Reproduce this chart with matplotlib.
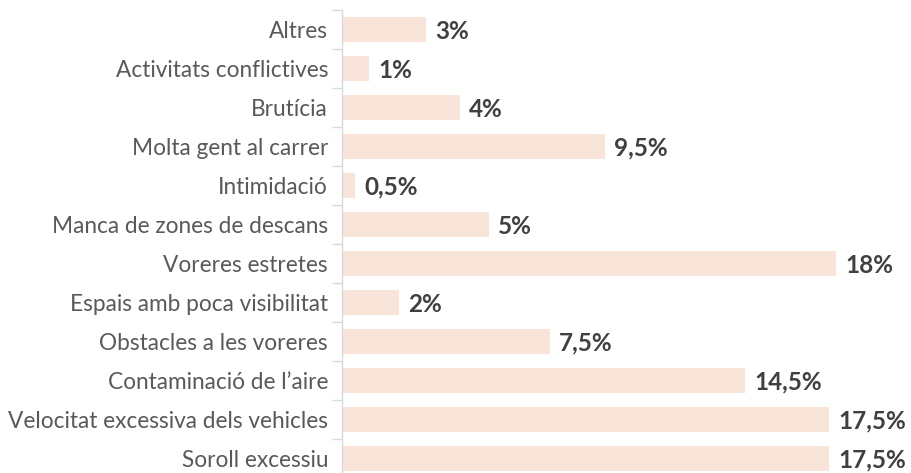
import matplotlib
matplotlib.use("Agg")
import matplotlib.pyplot as plt

categories = ["Altres", "Activitats conflictives", "Brutícia", "Molta gent al carrer",
              "Intimidació", "Manca de zones de descans", "Voreres estretes",
              "Espais amb poca visibilitat", "Obstacles a les voreres",
              "Contaminació de l\u2019aire", "Velocitat excessiva dels vehicles",
              "Soroll excessiu"]
values = [3.05, 1.0, 4.3, 9.6, 0.47, 5.35, 18.0, 2.08, 7.58, 14.7, 17.75, 17.75]
value_labels = ["3%", "1%", "4%", "9,5%", "0,5%", "5%", "18%", "2%", "7,5%",
                "14,5%", "17,5%", "17,5%"]

plt.rcParams['font.family'] = ['Lato', 'DejaVu Sans']

W, H = 911, 473
fig = plt.figure(figsize=(W / 100, H / 100), dpi=100)
x0, x_right = 342, 911
top, bottom = 10, 478
ax = fig.add_axes([x0 / W, (H - bottom) / H, (x_right - x0) / W, (bottom - top) / H])

n = len(categories)
pos = list(range(n))
ax.barh(pos, values, height=0.66, color='#F8E4D9', zorder=2)
for p, v, lab in zip(pos, values, value_labels):
    ax.text(v + 0.33, p + 0.04, lab, va='center', ha='left', fontsize=17.5,
            fontweight='bold', color='#404040', clip_on=False)

ax.set_ylim(n - 0.5, -0.5)
ax.set_xlim(0, (x_right - x0) / 27.44)
ax.set_yticks(pos)
ax.set_yticklabels(categories, fontsize=16.3, color='#595959')
ax.set_yticks([i - 0.5 for i in range(n + 1)], minor=True)
ax.tick_params(axis='y', which='major', length=0, pad=10)
ax.tick_params(axis='y', which='minor', length=7, width=1, color='#D9D9D9')
ax.set_xticks([])
for s in ['top', 'right', 'bottom']:
    ax.spines[s].set_visible(False)
ax.spines['left'].set_color('#D9D9D9')
ax.spines['left'].set_linewidth(1)

fig.savefig("out.png", dpi=100)
